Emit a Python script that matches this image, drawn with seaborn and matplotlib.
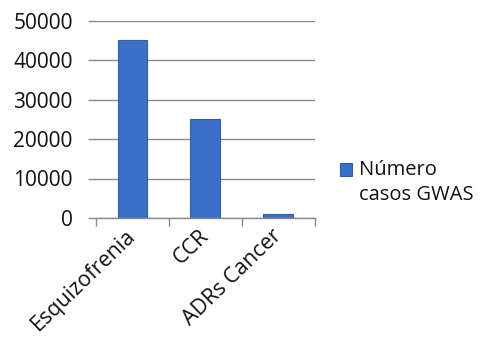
import matplotlib
matplotlib.use("Agg")
import matplotlib.pyplot as plt
import seaborn as sns
import pandas as pd
from matplotlib.ticker import FixedLocator
from matplotlib.patches import Rectangle
from matplotlib.container import BarContainer
from matplotlib.legend_handler import HandlerPatch, update_from_first_child

categories = ["Esquizofrenia", "CCR", "ADRs Cancer"]
casos_gwas = [45000, 25000, 1000]
series_label = "Número\ncasos GWAS"
y_ticks = [0, 10000, 20000, 30000, 40000, 50000]

sns.set_theme(style="white")
plt.rcParams["font.family"] = ["Open Sans", "DejaVu Sans"]

df = pd.DataFrame({"categoria": categories, "casos": casos_gwas})

fig = plt.figure(figsize=(4.8, 3.4), dpi=100)
ax = fig.add_axes([0.2, 0.359, 0.456, 0.58])

sns.barplot(data=df, x="categoria", y="casos", color="#3a70c6",
            width=0.41, edgecolor="#2b5da8", linewidth=0.8,
            label=series_label, ax=ax, saturation=1)

ax.set_xlim(-0.5, 2.5)
ax.set_ylim(0, 50000)
ax.set_yticks(y_ticks)
ax.set_yticklabels([str(v) for v in y_ticks], fontsize=15, color="#111111")
ax.yaxis.grid(True, color="#8a8a8a", linewidth=1)
ax.set_axisbelow(True)
ax.tick_params(axis="y", length=5.8, color="#8a8a8a", width=1, pad=11, left=True)

ax.set_xlabel("")
ax.set_ylabel("")
ax.set_xticks(range(len(categories)))
ax.set_xticklabels(categories, rotation=44, ha="right", va="center",
                   rotation_mode="anchor", fontsize=15.5, color="#111111")
ax.tick_params(axis="x", which="major", length=0, pad=11)
ax.xaxis.set_minor_locator(FixedLocator([-0.5, 0.5, 1.5, 2.5]))
ax.tick_params(axis="x", which="minor", length=6, color="#8a8a8a", width=1, bottom=True)

for side in ["left", "right", "top"]:
    ax.spines[side].set_visible(False)
ax.spines["bottom"].set_color("#8a8a8a")
ax.spines["bottom"].set_linewidth(1)


def top_square(legend, orig_handle, xdescent, ydescent, width, height, fontsize):
    # square key sitting beside the first line of the label
    return Rectangle((-xdescent, -ydescent + height * 1.05), width, height)


leg = ax.legend(loc="center left", bbox_to_anchor=(1.077, 0.18), frameon=False,
                fontsize=14.5, handlelength=0.6, handleheight=0.6, handletextpad=0.35,
                borderaxespad=0,
                handler_map={BarContainer: HandlerPatch(
                    patch_func=top_square, update_func=update_from_first_child)})
for t in leg.get_texts():
    t.set_color("#111111")
    t.set_linespacing(1.35)

fig.savefig("out.png", dpi=100)
